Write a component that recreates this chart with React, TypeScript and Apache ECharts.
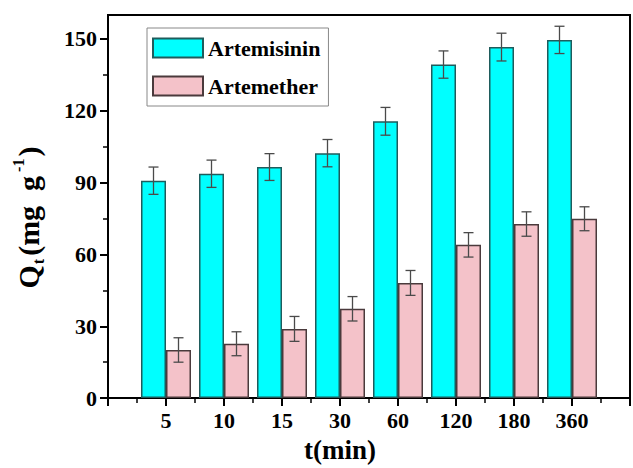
import React, { useEffect, useRef } from "react";
import * as echarts from "echarts";

const categories = ["5", "10", "15", "30", "60", "120", "180", "360"];
const artemisinin = [90.8, 93.7, 96.5, 102.3, 115.6, 139.3, 146.6, 149.6];
const artemisininErr = [5.7, 5.7, 5.6, 5.7, 5.8, 5.7, 5.8, 5.7];
const artemether = [20.1, 22.7, 28.9, 37.3, 48.1, 64.0, 72.7, 74.9];
const artemetherErr = [5.1, 5.0, 5.2, 5.1, 5.2, 5.1, 5.1, 5.0];
const yMajorTicks = [0, 30, 60, 90, 120, 150];
const yMinorTicks = [15, 45, 75, 105, 135];

const FONT = "'Liberation Serif', 'Times New Roman', serif";
const BAR_W = 25;

export default function App() {
  const ref = useRef<HTMLDivElement>(null);
  useEffect(() => {
    if (!ref.current) return;
    const chart = echarts.init(ref.current, null, { renderer: "svg" });
    const axisCats = ["", ...categories, ""];
    const pad = (arr: number[]) => ["-", ...arr, "-"];

    const errData = (vals: number[], errs: number[]) =>
      vals.map((v, i) => [i + 1, v - errs[i], v + errs[i]]);

    const errRender = (offset: number) => (params: any, api: any) => {
      const idx = api.value(0);
      const lo = api.coord([idx, api.value(1)]);
      const hi = api.coord([idx, api.value(2)]);
      const x = lo[0] + offset;
      const cap = 5;
      const style = { stroke: "#4a4a4a", lineWidth: 1.3 };
      return {
        type: "group",
        children: [
          { type: "line", shape: { x1: x, y1: lo[1], x2: x, y2: hi[1] }, style },
          { type: "line", shape: { x1: x - cap, y1: lo[1], x2: x + cap, y2: lo[1] }, style },
          { type: "line", shape: { x1: x - cap, y1: hi[1], x2: x + cap, y2: hi[1] }, style },
        ],
      };
    };

    chart.setOption({
      animation: false,
      grid: {
        left: 108,
        right: 2,
        top: 15,
        bottom: 65,
        show: true,
        borderColor: "#000",
        borderWidth: 2,
        backgroundColor: "transparent",
      },
      legend: {
        orient: "vertical",
        left: 147,
        top: 28,
        padding: [9, 8, 9, 5],
        itemWidth: 50,
        itemHeight: 19,
        itemGap: 16,
        borderColor: "#888",
        borderWidth: 1,
        icon: "rect",
        textStyle: { fontFamily: FONT, fontWeight: "bold", fontSize: 22, color: "#000" },
        data: ["Artemisinin", "Artemether"],
      },
      xAxis: [
        {
          type: "category",
          data: axisCats,
          boundaryGap: false,
          position: "bottom",
          axisLine: { lineStyle: { color: "#000", width: 2 } },
          axisTick: { show: true, length: 8, lineStyle: { color: "#000", width: 2 } },
          axisLabel: {
            fontFamily: FONT,
            fontWeight: "bold",
            fontSize: 22,
            color: "#000",
            margin: 11,
            interval: 0,
          },
          splitLine: { show: false },
          name: "t(min)",
          nameLocation: "middle",
          nameGap: 32,
          nameTextStyle: {
            fontFamily: FONT,
            fontWeight: "bold",
            fontSize: 27,
            color: "#000",
            padding: [0, 58, 0, 0],
          },
        },
        {
          type: "value",
          min: 0,
          max: 9,
          interval: 1,
          position: "bottom",
          axisLine: { show: false },
          axisTick: { show: false },
          axisLabel: { show: false },
          splitLine: { show: false },
          minorTick: { show: true, splitNumber: 2, length: 5, lineStyle: { color: "#000", width: 1.5 } },
          minorSplitLine: { show: false },
        },
      ],
      yAxis: [
        {
          type: "value",
          min: 0,
          max: 160,
          position: "left",
          axisLine: { show: true, lineStyle: { color: "#000", width: 2 } },
          axisTick: { show: true, length: 8, customValues: yMajorTicks, lineStyle: { color: "#000", width: 2 } },
          axisLabel: {
            customValues: yMajorTicks,
            fontFamily: FONT,
            fontWeight: "bold",
            fontSize: 22,
            color: "#000",
            margin: 11,
          },
          splitLine: { show: false },
          name: "{m|Q}{sub|t}{m|(mg  g}{sup|-1}{m|)}",
          nameLocation: "middle",
          nameRotate: 90,
          nameGap: 62,
          nameTextStyle: {
            fontFamily: FONT,
            fontWeight: "bold",
            fontSize: 30,
            color: "#000",
            padding: [0, 22, 0, 0],
            rich: {
              m: { fontFamily: FONT, fontWeight: "bold", fontSize: 30, color: "#000", lineHeight: 36 },
              sub: { fontFamily: FONT, fontWeight: "bold", fontSize: 16, color: "#000", verticalAlign: "bottom", lineHeight: 36, padding: [0, 3, 0, 1] },
              sup: { fontFamily: FONT, fontWeight: "bold", fontSize: 16, color: "#000", verticalAlign: "top", lineHeight: 36, padding: [0, 2, 0, 4] },
            },
          },
        },
        {
          type: "value",
          min: 0,
          max: 160,
          position: "left",
          axisLine: { show: false },
          axisTick: { show: true, length: 5, customValues: yMinorTicks, lineStyle: { color: "#000", width: 1.5 } },
          axisLabel: { show: false },
          splitLine: { show: false },
        },
      ],
      series: [
        {
          name: "Artemisinin",
          type: "bar",
          xAxisIndex: 0,
          yAxisIndex: 0,
          barWidth: BAR_W,
          barGap: "0%",
          data: pad(artemisinin),
          itemStyle: { color: "#00FFFF", borderColor: "#1F5C5C", borderWidth: 1.5 },
        },
        {
          name: "Artemether",
          type: "bar",
          xAxisIndex: 0,
          yAxisIndex: 0,
          barWidth: BAR_W,
          barGap: "0%",
          data: pad(artemether),
          itemStyle: { color: "#F4C2C9", borderColor: "#4A3A3C", borderWidth: 1.5 },
        },
        {
          type: "custom",
          xAxisIndex: 0,
          yAxisIndex: 0,
          z: 5,
          renderItem: errRender(-BAR_W / 2),
          data: errData(artemisinin, artemisininErr),
          encode: { x: 0, y: [1, 2] },
        },
        {
          type: "custom",
          xAxisIndex: 0,
          yAxisIndex: 0,
          z: 5,
          renderItem: errRender(BAR_W / 2),
          data: errData(artemether, artemetherErr),
          encode: { x: 0, y: [1, 2] },
        },
      ],
    });
    return () => chart.dispose();
  }, []);
  return (
    <div
      ref={ref}
      style={{ position: "absolute", left: 0, top: 0, width: 633, height: 468 }}
    />
  );
}
